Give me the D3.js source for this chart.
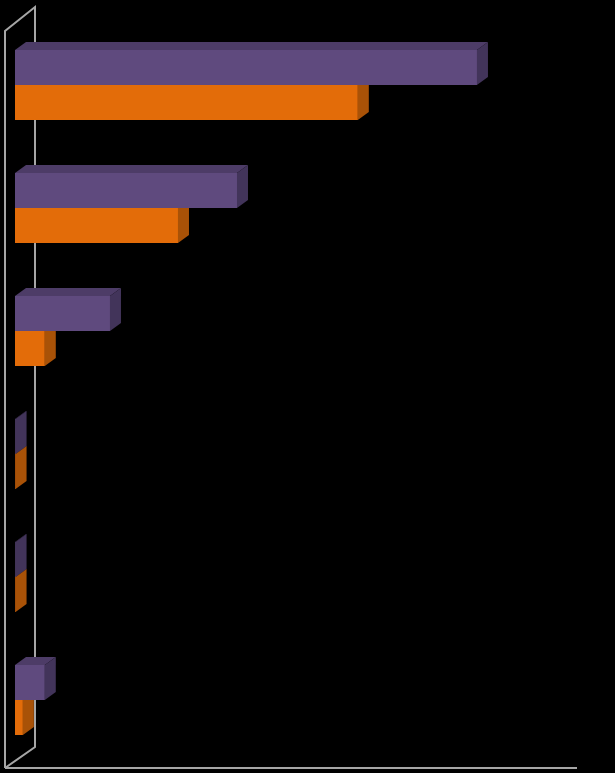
<!DOCTYPE html>
<html>
<head>
<meta charset="utf-8">
<script src="https://cdn.jsdelivr.net/npm/d3@7"></script>
<style>
  html, body { margin: 0; padding: 0; background: #000; }
  svg { display: block; }
</style>
</head>
<body>
<svg id="chart" width="615" height="773"></svg>
<script>
// Data (no text labels are shown in the reference)
const categories = ["1", "2", "3", "4", "5", "6"];
const seriesNames = ["Series 1", "Series 2"];
const series1 = [82.2, 39.5, 16.9, 0.1, 0.1, 5.3];
const series2 = [61.0, 29.0, 5.3, 0.1, 0.1, 1.4];
const xMax = 100;

const svg = d3.select("#chart");
const W = 615, H = 773;
svg.append("rect").attr("width", W).attr("height", H).attr("fill", "#000");

const x = d3.scaleLinear().domain([0, xMax]).range([15, 577]);
const y = d3.scaleBand().domain(categories).range([50, 735]).paddingInner(53 / 123).paddingOuter(0);
const ySub = d3.scaleBand().domain(seriesNames).range([0, y.bandwidth()]);

const dx = 11, dy = 8;          // bar depth offset
const wdx = 30, wdy = 23;       // wall depth offset

const colors = {
  "Series 1": { front: "#5f4a7e", top: "#4d3c67", side: "#42345a" },
  "Series 2": { front: "#e36c09", top: "#c45d08", side: "#a95207" }
};

// Wall / floor lines
const wallX = 5, wallTop = 31, wallBottom = 768;
const g = svg.append("g").attr("stroke", "#a6a6a6").attr("stroke-width", 2).attr("fill", "none");
g.append("path").attr("d",
  `M${wallX},${wallBottom} L${wallX},${wallTop} L${wallX + wdx},${wallTop - wdy - 1} L${wallX + wdx},${wallBottom - wdy + 2} L${wallX},${wallBottom}`);
g.append("line").attr("x1", wallX).attr("x2", x.range()[1]).attr("y1", wallBottom).attr("y2", wallBottom);

// Bars
const rows = [];
categories.forEach((c, i) => {
  rows.push({ cat: c, s: "Series 2", v: series2[i] });
  rows.push({ cat: c, s: "Series 1", v: series1[i] });
});

const bars = svg.append("g").selectAll("g.bar").data(rows).join("g").attr("class", "bar");
bars.each(function (d) {
  const gg = d3.select(this);
  const x0 = x(0), x1 = x(d.v);
  const y0 = y(d.cat) + ySub(d.s), y1 = y0 + ySub.bandwidth();
  const col = colors[d.s];
  gg.append("polygon")
    .attr("points", [[x0, y0], [x0 + dx, y0 - dy], [x1 + dx, y0 - dy], [x1, y0]].join(" "))
    .attr("fill", col.top);
  gg.append("polygon")
    .attr("points", [[x1, y0], [x1 + dx, y0 - dy], [x1 + dx, y1 - dy], [x1, y1]].join(" "))
    .attr("fill", col.side);
  gg.append("rect")
    .attr("x", x0).attr("y", y0).attr("width", x1 - x0).attr("height", y1 - y0)
    .attr("fill", col.front);
});
</script>
</body>
</html>
